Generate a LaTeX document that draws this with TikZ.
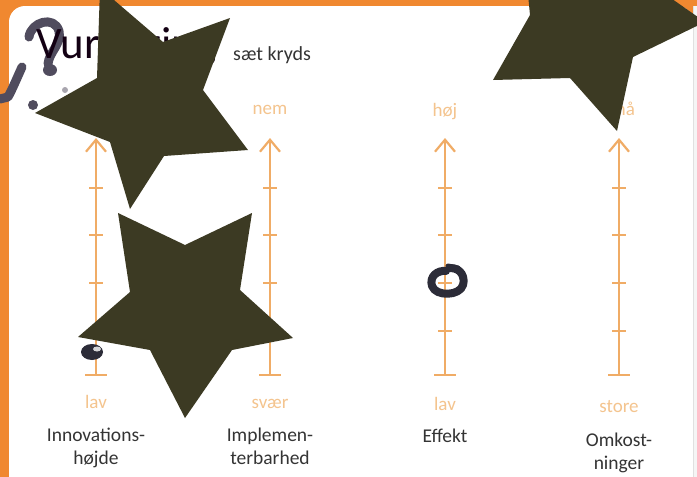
\documentclass[tikz,border=0pt]{standalone}
\usepackage{fontspec}
\setmainfont{Carlito}
\usetikzlibrary{arrows.meta}
\definecolor{cardorange}{RGB}{240,136,48}
\definecolor{axisorange}{RGB}{240,172,102}
\definecolor{lightorange}{RGB}{244,196,142}
\definecolor{capgray}{RGB}{52,52,52}
\definecolor{starolive}{RGB}{60,58,35}
\definecolor{inkgray}{RGB}{44,44,56}
\definecolor{inksoft}{RGB}{80,76,94}

\begin{document}
\begin{tikzpicture}[x=1pt,y=-1pt,>={Straight Barb[length=12pt,width=20pt]},
  axis/.style={draw=axisorange,line width=2.2pt},
  scalelabel/.style={text=lightorange,font=\fontsize{19}{22}\selectfont,anchor=base,inner sep=0pt},
  caption/.style={text=capgray,font=\fontsize{19.5}{23}\selectfont,align=center,anchor=north,inner sep=0pt},
  sticker/.style={fill=starolive,draw=none},
  ink/.style={draw=inkgray,line width=7pt,line cap=round,line join=round}]
\useasboundingbox (0,0) rectangle (697,477);
\clip (0,0) rectangle (697,477);
\fill[cardorange] (0,0) rectangle (697,477);
\fill[white,rounded corners=16pt] (9,6) rectangle (693,500);
\fill[white!96!black] (694,6) rectangle (697,477);
\draw[black!12,line width=0.8pt] (693.5,6) -- (693.5,477);

% pen marks round the title
\draw[ink,draw=inksoft,line width=9pt] (29,37) .. controls (31,22) and (54,15) .. (59,31)
  .. controls (62,44) and (49,52) .. (48,64);
\fill[inksoft] (50,70) ellipse (7pt and 6pt);
\draw[ink,draw=inksoft,line width=9pt] (22,67) .. controls (17,78) and (12,90) .. (8,97) -- (0,99);
\fill[inksoft] (33,105) circle (5pt);
\fill[inksoft!50] (65,90) circle (3pt);

\node[anchor=base west,inner sep=0pt,text=black!85!violet,font=\fontsize{45}{50}\selectfont] (title) at (36,58) {Vurdering};
\node[anchor=base west,inner sep=0pt,text=capgray,font=\fontsize{20}{24}\selectfont] (hint) at (233,60) {sæt kryds};

\foreach \i/\x/\lo/\ly/\cy/\cap in {
  1/96/lav/408/428/{Innovations-\\højde},
  2/270/svær/408/428/{Implemen-\\terbarhed},
  3/445/lav/410/429/{Effekt},
  4/619/store/412/433/{Omkost-\\ninger}}{
  \coordinate (bot\i) at (\x,375);
  \coordinate (top\i) at (\x,138);
  \draw[axis,->] (bot\i) -- (top\i);
  \draw[axis] ([xshift=-11pt]bot\i) -- ([xshift=11pt]bot\i);
  \foreach \y in {188,235,283,331}
    \draw[axis,line width=1.6pt] (\x-7,\y) -- (\x+7,\y);
  \node[scalelabel] (lo\i) at (\x,\ly) {\lo};
  \node[caption] (cap\i) at (\x,\cy) {\cap};
}
\node[scalelabel] (hi2) at (270,114) {nem};
\node[scalelabel] (hi3) at (445,116) {høj};
\node[scalelabel] (hi4) at (619,115) {små};

% pen marks on the scales
\draw[ink,line width=8pt] (450,268) .. controls (462,268) and (465,278) .. (463,285)
  .. controls (460,296) and (436,297) .. (432,286)
  .. controls (429,276) and (438,270) .. (446,271);
\draw[ink,line width=5pt] (448,266) -- (458,268);
\fill[inkgray] (92,352) ellipse (11pt and 8pt);
\fill[white!80!inkgray] (97,349) ellipse (4pt and 2.5pt);

% star stickers
\fill[sticker] (100,-12) -- (163,42) -- (230,18) -- (203,90) -- (248,150)
  -- (164,156) -- (130,209) -- (110,142) -- (35,113) -- (97,78) -- cycle;
\fill[sticker] (118,213) -- (185,245) -- (252,213) -- (240,290) -- (293,338)
  -- (232,350) -- (185,418) -- (150,350) -- (78,337) -- (130,292) -- cycle;
\fill[sticker] (493,80) -- (570,78) -- (617,131) -- (633,57) -- (705,22)
  -- (645,-20) -- (650,-90) -- (580,-40) -- (520,-90) -- (530,15) -- cycle;
\end{tikzpicture}
\end{document}
